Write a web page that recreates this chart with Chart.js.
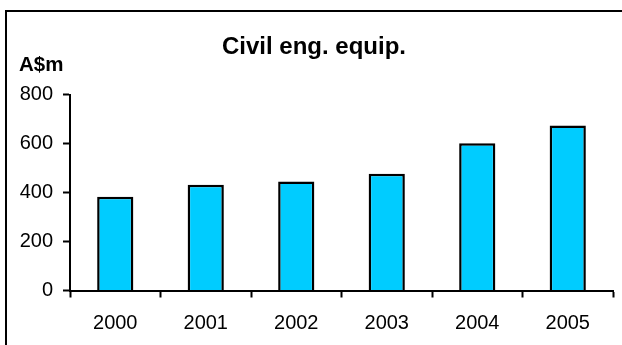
<!DOCTYPE html>
<html lang="en">
<head>
  <meta charset="UTF-8">
  <title>Civil eng. equip.</title>
  <style>
    body {
      margin: 0;
      background: #fff;
      overflow: hidden;
    }
    #frame {
      position: absolute;
      left: 5px;
      top: 10px;
      width: 700px;
      height: 400px;
      border-left: 2px solid #000;
      border-top: 2px solid #000;
    }
    #chart {
      position: absolute;
      left: 0;
      top: 0;
    }
  </style>
</head>
<body>

<div id="frame"></div>
<canvas id="chart" width="622" height="345"></canvas>

<script src="https://cdn.jsdelivr.net/npm/chart.js"></script>
<script>

const years = ["2000", "2001", "2002", "2003", "2004", "2005"];
const values = [383, 432, 446, 477, 602, 674];
const yTicks = [0, 200, 400, 600, 800];
const unitLabel = "A$m";

const fontFamily = "'Liberation Sans', Arial, sans-serif";

// "A$m" sits above the y axis, left aligned
const unitPlugin = {
  id: "unitLabel",
  afterDraw(chart) {
    const ctx = chart.ctx;
    ctx.save();
    ctx.font = "bold 20.5px " + fontFamily;
    ctx.fillStyle = "#000";
    ctx.textAlign = "left";
    ctx.textBaseline = "alphabetic";
    ctx.fillText(unitLabel, 19, 71);
    ctx.restore();
  }
};

new Chart(document.getElementById("chart"), {
  type: "bar",
  data: {
    labels: years,
    datasets: [{
      data: values,
      backgroundColor: "#00CCFF",
      borderColor: "#000",
      borderWidth: 2.5,
      barPercentage: 0.4,
      categoryPercentage: 1
    }]
  },
  options: {
    responsive: false,
    animation: false,
    devicePixelRatio: 1,
    layout: {
      padding: { left: 15, right: 9, top: 0, bottom: 0 }
    },
    plugins: {
      legend: { display: false },
      tooltip: { enabled: false },
      title: {
        display: true,
        text: "Civil eng. equip.",
        color: "#000",
        font: { family: fontFamily, size: 24, weight: "bold" },
        padding: { top: 33, bottom: 33 }
      }
    },
    scales: {
      x: {
        offset: true,
        afterFit(scale) { scale.height = 54.5; },
        grid: {
          offset: true,
          drawOnChartArea: false,
          tickLength: 7,
          tickWidth: 2,
          tickColor: "#000"
        },
        border: { color: "#000", width: 2 },
        ticks: {
          color: "#000",
          padding: 14,
          maxRotation: 0,
          font: { family: fontFamily, size: 20 }
        }
      },
      y: {
        min: 0,
        max: 800,
        afterFit(scale) { scale.width = 55; },
        afterBuildTicks(scale) {
          scale.ticks = yTicks.map(v => ({ value: v }));
        },
        grid: {
          drawOnChartArea: false,
          tickLength: 7,
          tickWidth: 2,
          tickColor: "#000"
        },
        border: { color: "#000", width: 2 },
        ticks: {
          color: "#000",
          padding: 10,
          font: { family: fontFamily, size: 20 }
        }
      }
    }
  },
  plugins: [unitPlugin]
});

</script>

</body>
</html>
